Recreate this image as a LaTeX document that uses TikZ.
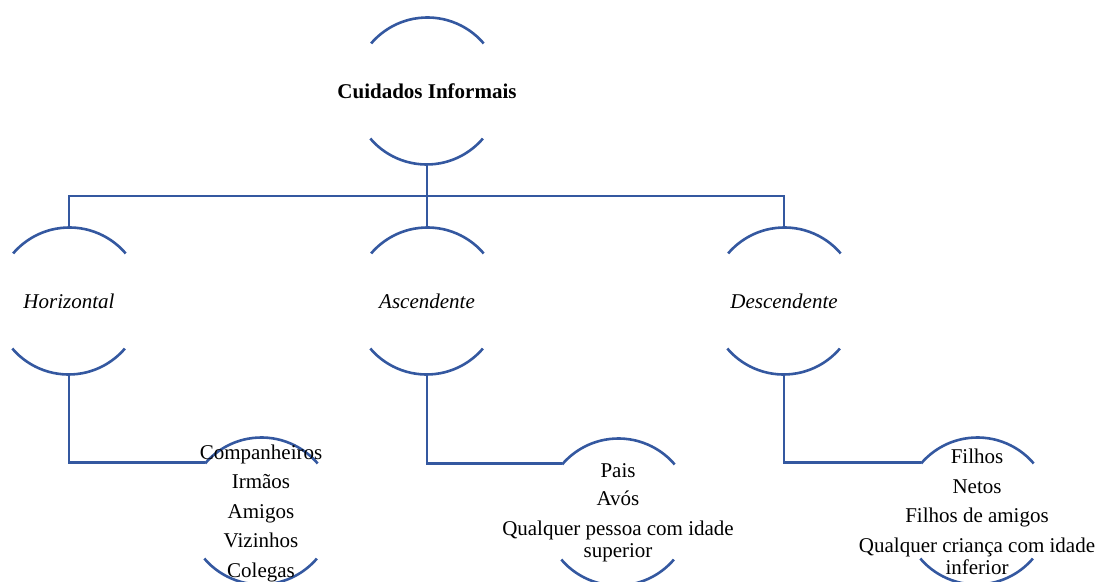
\documentclass[tikz,border=0pt]{standalone}
\usepackage{fontspec}
\setmainfont{Liberation Serif}
\definecolor{lineblue}{RGB}{52,88,160}
\tikzset{
  conn/.style={draw=lineblue, line width=2.6pt},
  ring/.style={circle, minimum size=148pt, inner sep=0pt, outer sep=0pt, draw=none},
  txt/.style={align=center, inner sep=0pt, font=\fontsize{21}{22.5}\selectfont},
}
\newcommand\ringarcs[1]{%
  \draw[conn] (#1.40.5) arc[start angle=40.5, end angle=139.5, radius=74pt];
  \draw[conn] (#1.220.5) arc[start angle=220.5, end angle=319.5, radius=74pt];}
\begin{document}
\begin{tikzpicture}[x=1pt,y=1pt]
\useasboundingbox (0,0) rectangle (1099,581);
% circles
\node[ring] (top) at (427,490) {};
\node[ring] (H) at (69,280) {};
\node[ring] (A) at (427,280) {};
\node[ring] (D) at (784,280) {};
\node[ring] (H3) at (261,70) {};
\node[ring] (A3) at (618,69) {};
\node[ring] (D3) at (977,70) {};
\foreach \n in {top,H,A,D,H3,A3,D3} {\ringarcs{\n}}
% texts
\node[txt, font=\fontsize{21}{22.5}\selectfont\bfseries] (topt) at (top) {Cuidados Informais};
\node[txt, font=\fontsize{21}{22.5}\selectfont\itshape] (Ht) at (H) {Horizontal};
\node[txt, font=\fontsize{21}{22.5}\selectfont\itshape] (At) at (A) {Ascendente};
\node[txt, font=\fontsize{21}{22.5}\selectfont\itshape] (Dt) at (D) {Descendente};
\node[txt] (H3t) at ([yshift=-2pt]H3) {Companheiros\\[7pt]Irmãos\\[7pt]Amigos\\[7pt]Vizinhos\\[7pt]Colegas};
\node[txt] (A3t) at ([yshift=-1pt]A3) {Pais\\[6pt]Avós\\[7pt]Qualquer pessoa com idade\\superior};
\node[txt] (D3t) at ([yshift=-1pt]D3) {Filhos\\[7pt]Netos\\[7pt]Filhos de amigos\\[7pt]Qualquer criança com idade\\inferior};
% connectors
\coordinate (bar) at (427,385);
\draw[conn] (top.south) -- (bar);
\draw[conn] (H.north) |- (bar) -| (D.north);
\draw[conn] (bar) -- (A.north);
\draw[conn] (H.south) |- (H3.139.5);
\draw[conn] (A.south) |- (A3.139.5);
\draw[conn] (D.south) |- (D3.139.5);
\end{tikzpicture}
\end{document}
